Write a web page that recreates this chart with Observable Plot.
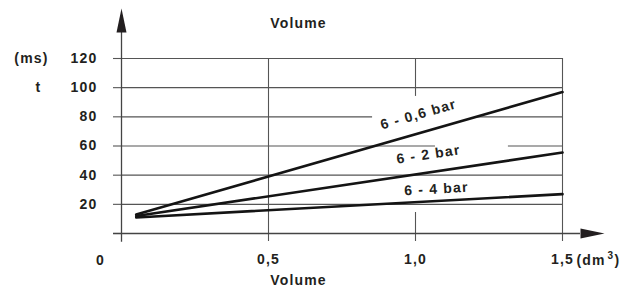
<!DOCTYPE html>
<html><head><meta charset="utf-8">
<script src="https://cdn.jsdelivr.net/npm/d3@7"></script>
<script src="https://cdn.jsdelivr.net/npm/@observablehq/plot@0.6"></script>
<style>
html,body{margin:0;padding:0;background:#fff;}
#chart svg{display:block;}
#chart svg text{font-family:'Liberation Sans',Arial,Helvetica,sans-serif !important;font-weight:700 !important;letter-spacing:1.2px !important;}
</style>
<style id="labelRot"></style>
</head><body><div id="chart"></div>
<script>
// ---- data ----
const seriesNames = ["6 - 0,6 bar", "6 - 2 bar", "6 - 4 bar"];
const volumeStart = [0.05, 0.05, 0.05];
const volumeEnd = [1.5, 1.5, 1.5];
const timeStart = [13, 12, 11];
const timeEnd = [97, 55.5, 27];
const labelVolume = [1.01, 1.044, 1.071];
const labelOffset = [-19, -18, -12];
const yTicks = [0, 20, 40, 60, 80, 100, 120];
const xTicks = [0.5, 1.0, 1.5];
const xTickLabels = ["0,5", "1,0", "1,5"];
// grid segments (with gaps where labels sit)
const hGrid = [
  {y: 20, x1: 0, x2: 1.5}, {y: 40, x1: 0, x2: 1.5},
  {y: 60, x1: 0, x2: 1.068}, {y: 60, x1: 1.316, x2: 1.5},
  {y: 80, x1: 0, x2: 0.854}, {y: 80, x1: 1.21, x2: 1.5},
  {y: 100, x1: 0, x2: 1.5}, {y: 120, x1: 0, x2: 1.5}
];
const vGrid = [
  {x: 0.5, y1: 0, y2: 120},
  {x: 1.0, y1: 94, y2: 120}, {x: 1.0, y1: 0, y2: 14.4},
  {x: 1.5, y1: 0, y2: 120}
];

// ---- layout ----
const W = 640, H = 298, mL = 121, mR = 78, mT = 58, mB = 65;
const xDomain = [0, 1.5], yDomain = [0, 120];
const pxPerX = (W - mL - mR) / (xDomain[1] - xDomain[0]);
const pxPerY = (H - mT - mB) / (yDomain[1] - yDomain[0]);

const lines = [];
const labels = [];
seriesNames.forEach((name, i) => {
  lines.push({s: name, v: volumeStart[i], t: timeStart[i]});
  lines.push({s: name, v: volumeEnd[i], t: timeEnd[i]});
  const slope = (timeEnd[i] - timeStart[i]) / (volumeEnd[i] - volumeStart[i]);
  const lv = labelVolume[i];
  labels.push({
    name, v: lv,
    t: timeStart[i] + (lv - volumeStart[i]) * slope,
    angle: -Math.atan(slope * pxPerY / pxPerX) * 180 / Math.PI,
    dy: labelOffset[i]
  });
});

// elongated filled arrowheads
const arrowUp = {draw(ctx) { ctx.moveTo(0, -24); ctx.lineTo(5, 0); ctx.lineTo(-5, 0); ctx.closePath(); }};
const arrowRight = {draw(ctx) { ctx.moveTo(24, 0); ctx.lineTo(0, 5); ctx.lineTo(0, -5); ctx.closePath(); }};

const ink = "#231f20";
const gridColor = "#555";
const yAxisTop = (H - mB - 32) / pxPerY;   // y-axis line end (value units)
const xAxisRight = (580 - mL) / pxPerX;    // x-axis line end
const txt = {fill: ink, fontSize: 14, fontWeight: "bold", fontFamily: "'Liberation Sans', Arial, sans-serif"};

const plot = Plot.plot({
  width: W, height: H,
  marginLeft: mL, marginRight: mR, marginTop: mT, marginBottom: mB,
  x: {domain: xDomain},
  y: {domain: yDomain},
  marks: [
    // grid
    Plot.ruleY(hGrid, {y: "y", x1: "x1", x2: "x2", stroke: gridColor, strokeWidth: 1.1}),
    Plot.ruleX(vGrid, {x: "x", y1: "y1", y2: "y2", stroke: gridColor, strokeWidth: 1.1}),
    // axis ticks and labels
    Plot.axisY({ticks: yTicks, tickSize: 8, tickPadding: 16, tickFormat: d => d === 0 ? "" : String(d), label: null, stroke: gridColor, strokeWidth: 1.1, ...txt}),
    Plot.axisX({ticks: xTicks, tickSize: 8, tickPadding: 13, tickFormat: (d, i) => xTickLabels[i], label: null, stroke: gridColor, strokeWidth: 1.1, ...txt}),
    // axis lines with arrows
    Plot.ruleX([0], {y1: -6, y2: yAxisTop, stroke: "#444", strokeWidth: 1.3}),
    Plot.ruleY([0], {x1: -0.027, x2: xAxisRight, stroke: "#444", strokeWidth: 1.3}),
    Plot.dot([{x: 0, y: yAxisTop}], {x: "x", y: "y", symbol: arrowUp, fill: ink, stroke: null, r: 5}),
    Plot.dot([{x: xAxisRight, y: 0}], {x: "x", y: "y", symbol: arrowRight, fill: ink, stroke: null, r: 5}),
    // data lines
    Plot.line(lines, {x: "v", y: "t", z: "s", stroke: "#141414", strokeWidth: 2.6}),
    // series labels, rotated along and offset above their lines
    ...labels.map(l => Plot.text([l], {x: "v", y: "t", text: "name", rotate: l.angle, dy: l.dy, ...txt})),
    // extra text
    Plot.text(["0"], {x: 0, y: 0, dx: -21, dy: 27, ...txt}),
    Plot.text(["(dm"], {x: 1.5, y: 0, dx: 14, dy: 27, textAnchor: "start", ...txt}),
    Plot.text(["3"], {x: 1.5, y: 0, dx: 45, dy: 22, textAnchor: "start", ...txt, fontSize: 10}),
    Plot.text([")"], {x: 1.5, y: 0, dx: 52, dy: 27, textAnchor: "start", ...txt}),
    Plot.text(["(ms)"], {x: 0, y: 120, dx: -90, ...txt}),
    Plot.text(["t"], {x: 0, y: 100, dx: -83, ...txt}),
    Plot.text(["Volume"], {x: 0.602, frameAnchor: "top", dy: -40, ...txt}),
    Plot.text(["Volume"], {x: 0.602, frameAnchor: "bottom", dy: 51, ...txt})
  ]
});
document.getElementById("chart").appendChild(plot);

// pin the label rotation with a CSS rule too, using the plot's own scales
const sx = plot.scale("x"), sy = plot.scale("y");
let css = "";
plot.querySelectorAll("g[aria-label=text] text").forEach(el => {
  const k = labels.findIndex(l => l.name === el.textContent);
  if (k < 0) return;
  el.id = "seriesLabel" + k;
  const l = labels[k];
  css += `#seriesLabel${k}{transform:translate(${sx.apply(l.v)}px,${sy.apply(l.t)}px) rotate(${l.angle}deg) !important;}\n`;
});
document.getElementById("labelRot").textContent = css;
</script>
</body></html>
